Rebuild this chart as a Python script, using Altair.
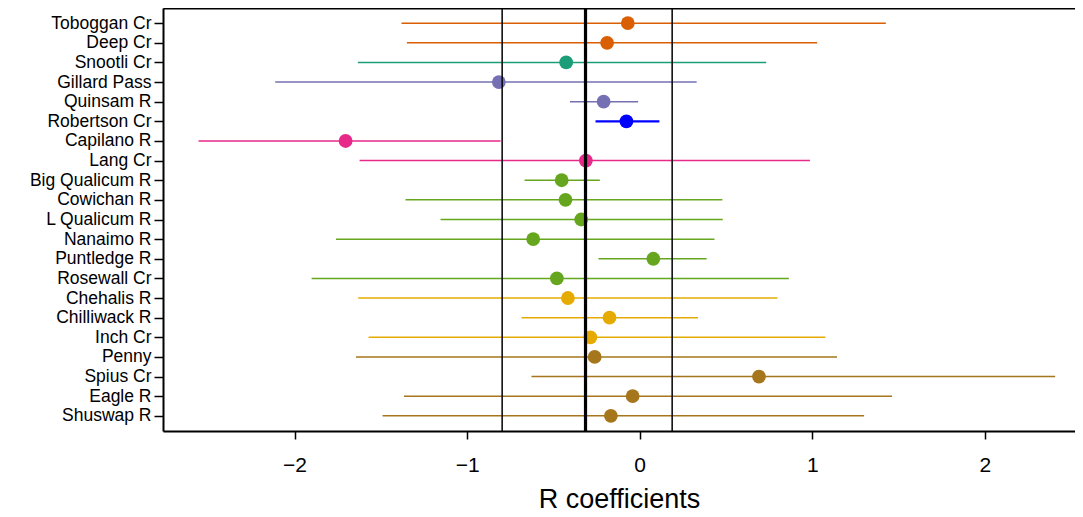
import altair as alt
import pandas as pd

sites = ["Toboggan Cr", "Deep Cr", "Snootli Cr", "Gillard Pass", "Quinsam R",
         "Robertson Cr", "Capilano R", "Lang Cr", "Big Qualicum R", "Cowichan R",
         "L Qualicum R", "Nanaimo R", "Puntledge R", "Rosewall Cr", "Chehalis R",
         "Chilliwack R", "Inch Cr", "Penny", "Spius Cr", "Eagle R", "Shuswap R"]
estimate = [-0.069, -0.189, -0.426, -0.816, -0.209, -0.077, -1.704, -0.312, -0.452, -0.430,
            -0.339, -0.617, 0.079, -0.480, -0.416, -0.175, -0.286, -0.261, 0.691, -0.041, -0.167]
lower = [-1.380, -1.349, -1.633, -2.112, -0.404, -0.256, -2.556, -1.623, -0.667, -1.357,
         -1.154, -1.760, -0.239, -1.901, -1.631, -0.685, -1.571, -1.644, -0.627, -1.366, -1.490]
upper = [1.426, 1.028, 0.733, 0.330, -0.009, 0.114, -0.806, 0.986, -0.231, 0.479,
         0.481, 0.433, 0.388, 0.864, 0.798, 0.338, 1.076, 1.143, 2.407, 1.462, 1.300]
colors = ["#D95F02", "#D95F02", "#1B9E77", "#7570B3", "#7570B3",
          "#0000FF", "#E7298A", "#E7298A", "#66A61E", "#66A61E",
          "#66A61E", "#66A61E", "#66A61E", "#66A61E", "#E6AB02",
          "#E6AB02", "#E6AB02", "#A6761D", "#A6761D", "#A6761D", "#A6761D"]
ref_values = [-0.797, -0.314, 0.188]
ref_kind = ["lower", "mean", "upper"]
x_ticks = [-2, -1, 0, 1, 2]

df = pd.DataFrame({"site": sites, "est": estimate, "lo": lower, "hi": upper, "col": colors})
ref = pd.DataFrame({"value": ref_values, "kind": ref_kind})

FONT = "Liberation Sans"
W, H = 912, 423

xscale = alt.Scale(domain=[-2.762, 2.522], nice=False, zero=False)
yscale = alt.Scale(type="point", domain=sites, padding=0.775)

x_axis = alt.Axis(values=x_ticks, grid=False, tickSize=8, tickWidth=1.5, tickColor="black",
                  domainColor="black", domainWidth=2, labelFontSize=21, labelColor="black",
                  labelFont=FONT, labelPadding=15, title="R coefficients", titleFont=FONT,
                  titleFontSize=27, titleFontWeight="normal", titleColor="black", titlePadding=11)
y_axis = alt.Axis(title=None, grid=False, tickSize=9, tickWidth=1.5, tickColor="black",
                  domainColor="black", domainWidth=2, labelFontSize=17.5, labelColor="black",
                  labelFont=FONT, labelPadding=3)

bars = alt.Chart(df).mark_rule().encode(
    x=alt.X("lo:Q", scale=xscale, axis=x_axis),
    x2="hi:Q",
    y=alt.Y("site:N", scale=yscale, axis=y_axis, sort=sites),
    color=alt.Color("col:N", scale=None),
    strokeWidth=alt.condition("datum.site == 'Robertson Cr'", alt.value(2.2), alt.value(1.5)),
)

points = alt.Chart(df).mark_circle(size=190, opacity=1).encode(
    x=alt.X("est:Q", scale=xscale,
            axis=alt.Axis(orient="top", labels=False, ticks=False, title=None, grid=False,
                          domainColor="black", domainWidth=2)),
    y=alt.Y("site:N", scale=yscale, sort=sites),
    color=alt.Color("col:N", scale=None),
)

refs = alt.Chart(ref).mark_rule(color="black").encode(
    x=alt.X("value:Q", scale=xscale, axis=None),
    strokeWidth=alt.condition("datum.kind == 'mean'", alt.value(3.2), alt.value(1.5)),
)

chart = alt.layer(bars, points, refs).resolve_axis(x="independent").properties(
    width=W, height=H,
    autosize=alt.AutoSizeParams(type="none"),
    padding={"left": 155, "top": 0, "right": 0, "bottom": 86},
).configure_view(stroke=None).configure(font=FONT)

chart.save("out.html", embed_options={"renderer": "svg", "actions": False})
